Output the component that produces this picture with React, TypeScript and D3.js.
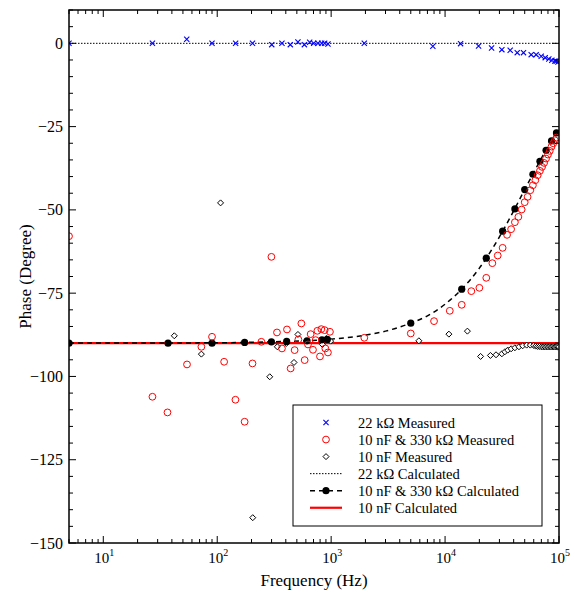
import React from 'react';
import * as d3 from 'd3';

// ---------- data ----------
// 22 kΩ measured (blue crosses)
const blueFreq = [5, 27, 54, 90, 145, 204, 301, 370, 438, 511, 582, 648, 702, 766, 826, 877, 938, 1954, 7810, 13680, 19680, 25600, 31500, 37300, 43000, 48800, 57000, 63000, 69800, 75700, 81400, 86500, 91900, 94500, 98000];
const bluePhase = [0, 0, 1.2, 0, 0, 0, -0.4, 0, -0.4, 0.4, -0.4, 0.3, 0, 0, 0, 0, -0.2, 0, -0.9, -0.1, -0.8, -1.4, -1.9, -2.1, -2.8, -2.8, -3.4, -3.4, -3.9, -4.3, -4.7, -5.1, -5.3, -5.4, -5.6];

// 10 nF & 330 kΩ measured (red circles)
const redFreq = [5, 27, 36.6, 54.3, 72.6, 90, 115, 144.5, 174, 204, 244, 299, 334.6, 370, 409.6, 441, 478, 515.6, 547.7, 585.5, 626, 661, 692.5, 731, 757, 798, 820, 877, 889, 937, 976, 1954,
  5000, 8000, 11000, 14000, 17000, 20000, 23000, 26000, 29000, 32000, 35000, 38000, 41000, 44000, 47000, 50000, 53000, 56000, 59000, 62000, 65000, 68000, 71000, 74000, 77000, 80000, 83000, 86000, 89000, 92000, 95000];
const redPhase = [-57.9, -106.1, -110.8, -96.4, -91.1, -88.1, -95.6, -107.0, -113.6, -96.1, -89.6, -64.1, -86.8, -91.6, -85.9, -97.6, -92.1, -88.9, -84.1, -95.1, -90.4, -87.3, -92.0, -89.1, -86.3, -94.0, -85.8, -86.1, -91.6, -92.8, -86.6, -88.4,
  -87.1, -83.4, -80.3, -78.5, -74.4, -73.4, -70.4, -66.0, -63.7, -61.4, -57.5, -55.8, -53.7, -52.1, -49.9, -47.7, -46.1, -44.1, -42.6, -41.1, -39.6, -38.3, -37.1, -35.9, -34.6, -33.4, -32.3, -31.0, -30.0, -29.1, -28.3];

// 10 nF measured (open diamonds)
const diaFreq = [42, 72.6, 107, 205, 289, 337, 404, 472, 511, 838, 908, 990, 5890, 10800, 15700,
  20500, 25000, 28000, 31500, 33500, 35500, 38000, 41000, 44500, 48000, 52000, 56000, 60000, 62500, 65000, 67500, 70000, 72500, 75000, 77500, 80000, 82500, 85000, 87500, 90000, 92500, 95000, 97500, 100000];
const diaPhase = [-87.8, -93.3, -47.9, -142.4, -100.1, -91.1, -90.1, -95.8, -87.4, -90.4, -88.6, -89.4, -89.3, -87.3, -86.4,
  -94.0, -93.7, -93.5, -93.2, -92.6, -92.1, -91.7, -91.4, -91.1, -90.8, -90.6, -90.6, -90.7, -90.9, -91.0, -91.0, -91.1, -91.1, -91.1, -91.1, -91.1, -91.1, -91.1, -91.1, -91.1, -91.1, -91.1, -91.1, -91.1];

// 10 nF & 330 kΩ calculated (filled markers + dashed curve)
const calcMarkerFreq = [5, 37, 90, 174, 299, 407, 614, 830, 926, 5000, 14000, 23000, 32000, 41000, 50000, 59000, 68000, 77000, 86000, 95000];
const calcMarkerPhase = [-90, -90, -90, -89.8, -89.6, -89.5, -89.3, -89.0, -88.9, -84.0, -73.8, -64.5, -56.4, -49.7, -43.9, -39.3, -35.4, -32.1, -29.3, -26.9];
const calcLineFreq = [5, 100, 300, 600, 1000, 2000, 3000, 5000, 7000, 10000, 14000, 20000, 30000, 40000, 50000, 60000, 70000, 80000, 90000, 100000];
const calcLinePhase = [-90, -89.9, -89.6, -89.3, -88.8, -87.6, -86.4, -84.0, -81.8, -78.3, -73.8, -67.5, -58.1, -50.3, -43.9, -38.8, -34.5, -31.1, -28.2, -25.7];

// 22 kΩ calculated and 10 nF calculated (flat lines)
const flatFreq = [5, 100000];
const calc22kPhase = [0, 0];
const calc10nPhase = [-90, -90];

const yTickLabels = [0, -25, -50, -75, -100, -125, -150];
const xDecades = [1, 2, 3, 4, 5];

const legendLabels = [
  '22 kΩ Measured',
  '10 nF & 330 kΩ Measured',
  '10 nF Measured',
  '22 kΩ Calculated',
  '10 nF & 330 kΩ Calculated',
  '10 nF Calculated',
];

// ---------- layout ----------
const W = 575, H = 595;
const L = 69, R = 559, T = 10, B = 543;
const FONT = "'Liberation Serif', 'DejaVu Serif', 'Times New Roman', serif";

const x = d3.scaleLog().domain([5, 1e5]).range([L, R]);
const y = d3.scaleLinear().domain([-150, 10]).range([B, T]);

const lineGen = d3.line<[number, number]>().x(d => x(d[0])).y(d => y(d[1]));
const curveGen = d3.line<[number, number]>().x(d => x(d[0])).y(d => y(d[1])).curve(d3.curveMonotoneX);

const zip = (a: number[], b: number[]) => a.map((v, i) => [v, b[i]] as [number, number]);

const xTicks: { v: number; major: boolean }[] = [];
for (let e = 0; e <= 5; e++) {
  for (let m = 1; m <= 9; m++) {
    const v = m * Math.pow(10, e);
    if (v >= 5 && v <= 1e5 + 1) xTicks.push({ v, major: m === 1 });
  }
}
const yTicks = d3.range(-150, 10.01, 5).map(v => ({ v, major: v % 25 === 0 }));

const fmtMinus = (v: number) => (v < 0 ? '\u2212' + Math.abs(v) : String(v));

const Cross = ({ cx, cy }: { cx: number; cy: number }) => (
  <path d={`M${cx - 2.6},${cy - 2.6}L${cx + 2.6},${cy + 2.6}M${cx - 2.6},${cy + 2.6}L${cx + 2.6},${cy - 2.6}`} stroke="#0000ff" strokeWidth={1.1} fill="none" />
);
const Diamond = ({ cx, cy }: { cx: number; cy: number }) => (
  <path d={`M${cx},${cy - 3}L${cx + 3},${cy}L${cx},${cy + 3}L${cx - 3},${cy}Z`} stroke="#000" strokeWidth={1} fill="#fff" />
);

const txt: React.CSSProperties = { fontFamily: FONT };

export default function App() {
  const lx0 = 310, lx1 = 342, lxc = 326, ltx = 358;
  const lyt = 405, lyb = 526, lxl = 293, lxr = 542;
  const rowY = (i: number) => 422.5 + i * 17.05;
  return (
    <svg width={W} height={H} style={{ position: 'absolute', left: 0, top: 0, fontFamily: FONT }}>
      <rect x={0} y={0} width={W} height={H} fill="#fff" />
      <defs>
        <clipPath id="plotclip">
          <rect x={L} y={T} width={R - L} height={B - T} />
        </clipPath>
      </defs>
      <g clipPath="url(#plotclip)">
        <path d={lineGen(zip(flatFreq, calc22kPhase)) || ''} stroke="#000" strokeWidth={1} strokeDasharray="1.5,1.5" fill="none" />
        <path d={lineGen(zip(flatFreq, calc10nPhase)) || ''} stroke="#ff0000" strokeWidth={2.2} fill="none" />
        <path d={curveGen(zip(calcLineFreq, calcLinePhase)) || ''} stroke="#000" strokeWidth={1.5} strokeDasharray="5,4" fill="none" />
        {diaFreq.map((f, i) => <Diamond key={'d' + i} cx={x(f)} cy={y(diaPhase[i])} />)}
        {calcMarkerFreq.map((f, i) => <circle key={'c' + i} cx={x(f)} cy={y(calcMarkerPhase[i])} r={3.6} fill="#000" />)}
        {redFreq.map((f, i) => <circle key={'r' + i} cx={x(f)} cy={y(redPhase[i])} r={3.4} fill="none" stroke="#ff0000" strokeWidth={1} />)}
        {blueFreq.map((f, i) => <Cross key={'b' + i} cx={x(f)} cy={y(bluePhase[i])} />)}
      </g>

      {xTicks.map((t, i) => {
        const px = x(t.v);
        const len = t.major ? 7 : 4;
        return (
          <g key={'xt' + i}>
            <line x1={px} x2={px} y1={B} y2={B - len} stroke="#000" strokeWidth={1} />
            <line x1={px} x2={px} y1={T} y2={T + len} stroke="#000" strokeWidth={1} />
          </g>
        );
      })}
      {yTicks.map((t, i) => {
        const py = y(t.v);
        const len = t.major ? 7 : 4;
        return (
          <g key={'yt' + i}>
            <line x1={L} x2={L + len} y1={py} y2={py} stroke="#000" strokeWidth={1} />
            <line x1={R} x2={R - len} y1={py} y2={py} stroke="#000" strokeWidth={1} />
          </g>
        );
      })}
      <rect x={L} y={T} width={R - L} height={B - T} fill="none" stroke="#000" strokeWidth={1.5} />

      {yTickLabels.map(v => (
        <text key={'yl' + v} x={63} y={y(v)} dy="0.35em" textAnchor="end" fontSize={16} style={txt}>{fmtMinus(v)}</text>
      ))}
      {xDecades.map(e => (
        <text key={'xl' + e} x={x(Math.pow(10, e)) + 1} y={563} textAnchor="middle" fontSize={15} style={txt}>
          10<tspan dy={-7} fontSize={10}>{e}</tspan>
        </text>
      ))}

      <text x={(L + R) / 2} y={586} textAnchor="middle" fontSize={17} style={txt}>Frequency (Hz)</text>
      <text transform={`translate(31,${(T + B) / 2}) rotate(-90)`} textAnchor="middle" fontSize={17} style={txt}>Phase (Degree)</text>

      <rect x={lxl} y={lyt} width={lxr - lxl} height={lyb - lyt} fill="#fff" stroke="#000" strokeWidth={1} />
      <Cross cx={lxc} cy={rowY(0)} />
      <circle cx={lxc} cy={rowY(1)} r={3.4} fill="none" stroke="#ff0000" strokeWidth={1} />
      <Diamond cx={lxc} cy={rowY(2)} />
      <line x1={lx0} x2={lx1} y1={rowY(3)} y2={rowY(3)} stroke="#000" strokeWidth={1} strokeDasharray="1.5,1.5" />
      <line x1={lx0} x2={lx1} y1={rowY(4)} y2={rowY(4)} stroke="#000" strokeWidth={1.5} strokeDasharray="5,4" />
      <circle cx={lxc} cy={rowY(4)} r={3.6} fill="#000" />
      <line x1={lx0} x2={lx1} y1={rowY(5)} y2={rowY(5)} stroke="#ff0000" strokeWidth={2.2} />
      {legendLabels.map((s, i) => (
        <text key={'lg' + i} x={ltx} y={rowY(i)} dy="0.35em" fontSize={14.5} style={txt}>{s}</text>
      ))}
    </svg>
  );
}
